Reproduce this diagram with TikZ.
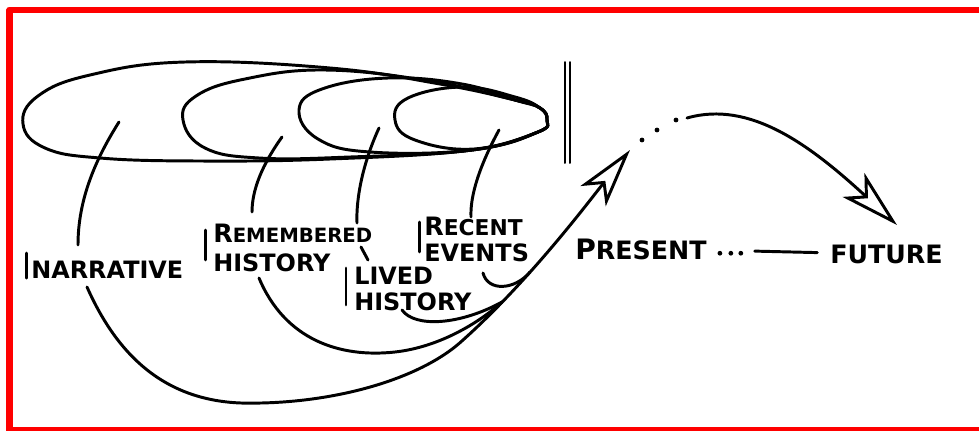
\documentclass[tikz,border=0pt]{standalone}
\usepackage{fontspec}
\newfontfamily\handfont{DejaVu Sans}
\newcommand\initial[2]{{\fontsize{#1}{21}\selectfont #2}}
\usetikzlibrary{arrows.meta,positioning}

\tikzset{
  stroke/.style={line width=2.1pt,line cap=round,line join=round},
  sketchtip/.style={-{Stealth[open,length=42pt,width=23pt,inset=11pt]}},
  tag/.style={font=\handfont\bfseries\fontsize{17}{19}\selectfont,
    inner sep=0pt,anchor=west,align=left},
  dot/.style={fill,circle,inner sep=0pt,minimum size=3.4pt},
}

\begin{document}
\begin{tikzpicture}[x=0.025cm,y=-0.025cm,line cap=round,line join=round]
  \useasboundingbox (0,0) rectangle (979,430);
  \draw[red,line width=4.3pt] (9.5,433) -- (9.5,9.7) -- (985,9.7);
  \draw[red,line width=4.3pt] (9.5,430.5) -- (985,430.5);

  % the four nested times
  \draw[stroke] plot[smooth cycle,tension=0.7] coordinates {(23,124) (38,96) (90,75)
    (185,62) (330,68) (440,84) (515,100) (540,108) (547,120) (538,132) (472,150)
    (330,159) (200,161) (100,158) (45,148)};
  \draw[stroke] plot[smooth cycle,tension=0.7] coordinates {(183,120) (196,96)
    (245,79) (325,70) (430,81) (515,100) (540,108) (547,120) (538,132) (472,150)
    (350,157) (259,158) (205,148)};
  \draw[stroke] plot[smooth cycle,tension=0.7] coordinates {(299,110) (322,89)
    (388,78) (462,84) (515,100) (540,108) (547,120) (538,132) (472,150) (370,152)
    (318,139)};
  \draw[stroke] plot[smooth cycle,tension=0.7] coordinates {(395,120) (408,98)
    (463,87) (515,97) (540,108) (547,120) (538,132) (474,149) (415,140)};

  % now
  \draw[line width=1.4pt] (565,62) -- (565,163);
  \draw[line width=1.4pt] (570,62) -- (570,163);

  % labels
  \node[tag] (narr) at (31,270) {NARRATIVE};
  \node[tag,font=\handfont\bfseries\fontsize{14}{21}\selectfont] (remem) at (213,248)
    {\initial{18}{R}EMEMBERED\\\initial{17}{HISTORY}};
  \node[tag] (lived) at (354,289) {LIVED\\HISTORY};
  \node[tag,font=\handfont\bfseries\fontsize{15.5}{18.5}\selectfont] (recent) at (424,239)
    {\initial{18}{R}ECENT\\\initial{17}{EVENTS}};
  \node[tag,font=\handfont\bfseries\fontsize{18}{19}\selectfont] (present) at (575,249)
    {\initial{20}{P}RESENT};
  \node[tag,font=\handfont\bfseries\fontsize{18}{19}\selectfont] (future) at (830,254) {FUTURE};

  \draw[stroke] ([xshift=-3.5pt,yshift=12pt]narr.west) -- ([xshift=-3.5pt,yshift=-5.7pt]narr.west);
  \draw[stroke] ([xshift=-5pt,yshift=12.8pt]remem.west) -- ([xshift=-5pt,yshift=-8.5pt]remem.west);
  \draw[stroke] ([xshift=-5.7pt,yshift=14.9pt]lived.west) -- ([xshift=-5.7pt,yshift=-11.3pt]lived.west);
  \draw[stroke] ([xshift=-3.5pt,yshift=12pt]recent.west) -- ([xshift=-3.5pt,yshift=-9.2pt]recent.west);

  % from each time down to its label
  \coordinate (t1) at (119,122);
  \coordinate (t2) at (282,137);
  \coordinate (t3) at (379,128);
  \coordinate (t4) at (499,130);
  \draw[stroke] (t1) .. controls (95,160) and (78,200) .. (78,245);
  \draw[stroke] (t2) .. controls (262,165) and (252,190) .. (252,212);
  \draw[stroke] (t3) .. controls (362,165) and (356,200) .. (357,223);
  \draw[stroke] (361,247) -- (368,260);
  \draw[stroke] (t4) .. controls (480,165) and (470,195) .. (471,217);

  % sweeping back into the present
  \coordinate (tip) at (630,150);
  \draw[stroke,sketchtip] (87,287) .. controls (115,350) and (160,400) .. (241,403)
    .. controls (330,405) and (420,380) .. (463,340)
    .. controls (530,280) and (590,200) .. (tip);
  \draw[stroke] (259,278) .. controls (285,340) and (340,358) .. (395,352)
    .. controls (440,347) and (480,322) .. (502,302);
  \draw[stroke] (402,310) .. controls (415,328) and (460,325) .. (502,302);
  \draw[stroke] (483,273) .. controls (488,292) and (515,290) .. (530,272);

  % on into the future
  \foreach \p in {(642,140),(657,130),(676,120)}
    \node[dot] at \p {};
  \draw[stroke,sketchtip] (687,118) .. controls (750,100) and (810,145) .. (897,225);

  \foreach \dx in {13,24,34}
    \node[dot] at ([xshift=\dx*0.709pt,yshift=-3pt]present.east) {};
  \draw[stroke] ([xshift=34pt,yshift=-1.5pt]present.east) -- ([xshift=-9pt,yshift=1pt]future.west);
\end{tikzpicture}
\end{document}
